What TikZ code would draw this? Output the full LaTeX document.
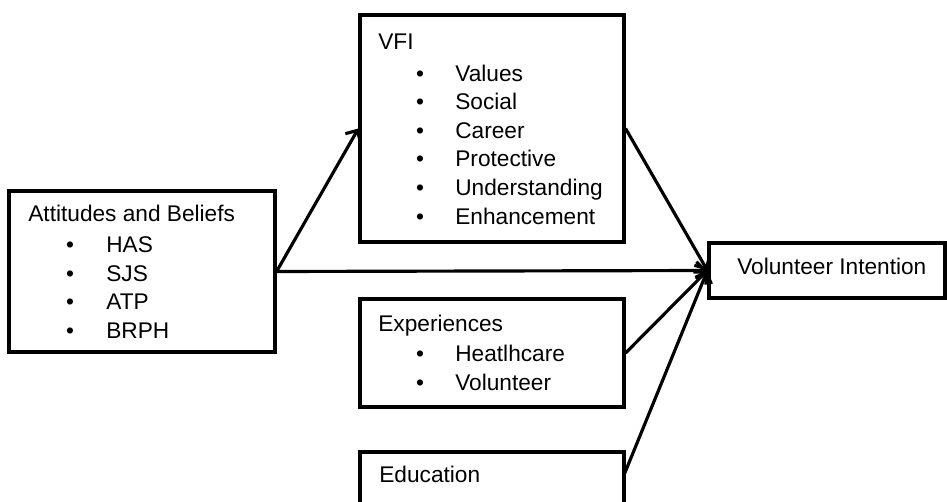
\documentclass[tikz,border=0pt]{standalone}
\usepackage{fontspec}
\setmainfont{Liberation Sans}
\usetikzlibrary{arrows.meta,fit}

\begin{document}
\begin{tikzpicture}[
    x=0.02cm, y=-0.02cm,
    riquadro/.style={draw=black, line width=1.8pt, rectangle, inner sep=0pt},
    titolo/.style={anchor=base west, inner sep=0pt, font=\fontsize{12.9}{15}\selectfont},
    voce/.style={anchor=base west, inner sep=0pt, font=\fontsize{12.9}{15}\selectfont},
    punto/.style={anchor=base, inner sep=0pt, font=\fontsize{12.9}{15}\selectfont},
    freccia/.style={line width=1.8pt, -{Straight Barb[length=5pt, width=10pt]}}
]
    \useasboundingbox (0,0) rectangle (947,502);

    % 1. Riquadri (coordinate in pixel)
    \node[riquadro, fit={(9,191) (275,352)}] (AB) {};
    \node[riquadro, fit={(360,15) (624,242)}] (VFI) {};
    \node[riquadro, fit={(360,299) (624,407)}] (EXP) {};
    \node[riquadro, fit={(360,452) (624,530)}] (EDU) {};
    \node[riquadro, fit={(709,243) (945,298)}] (VI) {};

    % 2. Testi e elenchi puntati
    \node[titolo] (AB-t) at (28,222) {Attitudes and Beliefs};
    \foreach \nome [count=\i] in {HAS,SJS,ATP,BRPH} {
        \node[punto] (AB-p\i) at (70,224.5+28.4*\i) {•};
        \node[voce] (AB-v\i) at (106,224.5+28.4*\i) {\nome};
    }

    \node[titolo] (VFI-t) at (378,50) {VFI};
    \foreach \nome [count=\i] in {Values,Social,Career,Protective,Understanding,Enhancement} {
        \node[punto] (VFI-p\i) at (420,52.5+28.6*\i) {•};
        \node[voce] (VFI-v\i) at (455,52.5+28.6*\i) {\nome};
    }

    \node[titolo] (EXP-t) at (378,332) {Experiences};
    \foreach \nome [count=\i] in {Heatlhcare,Volunteer} {
        \node[punto] (EXP-p\i) at (420,333.5+28.3*\i) {•};
        \node[voce] (EXP-v\i) at (455,333.5+28.3*\i) {\nome};
    }

    \node[titolo] (EDU-t) at (379,483) {Education};

    \node[titolo] (VI-t) at (737,275) {Volunteer Intention};

    % 3. Frecce verso l'intenzione
    \coordinate (EDU-u) at (624,475);
    \draw[freccia] (AB.east) -- (VFI.west);
    \draw[freccia] (AB.east) -- (VI.west);
    \draw[freccia] (VFI.east) -- (VI.west);
    \draw[freccia] (EXP.east) -- (VI.west);
    \draw[freccia] (EDU-u) -- (VI.west);

\end{tikzpicture}
\end{document}
